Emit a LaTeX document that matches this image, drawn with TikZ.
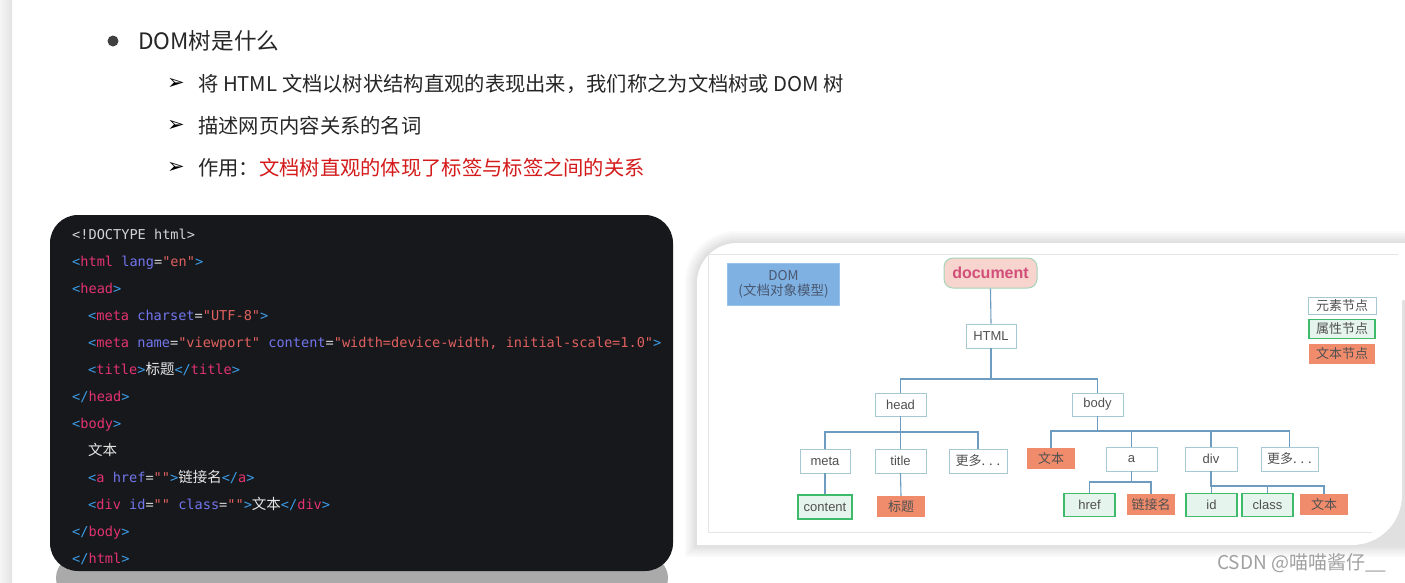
\documentclass[tikz,border=0pt]{standalone}
\usepackage{fontspec}
\usepackage{xcolor}
\newfontfamily\cjk{Noto Sans CJK SC}
\newfontfamily\codefont{DejaVu Sans Mono}
\newfontfamily\arialf{Liberation Sans}
\newfontfamily\djv{DejaVu Sans}
\definecolor{cdbg}{HTML}{17181B}
\definecolor{cdef}{HTML}{D4D4D4}
\definecolor{cdbr}{HTML}{3B9CE8}
\definecolor{cdtg}{HTML}{E2336E}
\definecolor{cdat}{HTML}{7275EC}
\definecolor{cdvl}{HTML}{E0605F}
\definecolor{czh}{HTML}{E6E6E6}
\definecolor{hdtx}{HTML}{262626}
\definecolor{redtx}{HTML}{D41A1A}
\definecolor{lnk}{HTML}{6E9CC0}
\definecolor{elbd}{HTML}{A6C8D2}
\definecolor{ndtx}{HTML}{505050}
\definecolor{atbd}{HTML}{3DBA6A}
\definecolor{atfl}{HTML}{E6F4EE}
\definecolor{txfl}{HTML}{F08C6C}
\definecolor{docfl}{HTML}{F7D4CD}
\definecolor{docbd}{HTML}{A4D4BA}
\definecolor{doctx}{HTML}{D24F7A}
\definecolor{domfl}{HTML}{7FB1E3}
\definecolor{domtx}{HTML}{4A5870}
\definecolor{wmtx}{HTML}{A0A0A0}
\definecolor{refl}{HTML}{A9AAA9}
\newcommand\cdB[1]{\textcolor{cdbr}{#1}}
\newcommand\cdT[1]{\textcolor{cdtg}{#1}}
\newcommand\cdA[1]{\textcolor{cdat}{#1}}
\newcommand\cdV[1]{\textcolor{cdvl}{#1}}
\newcommand\cdZ[1]{{\cjk\fontsize{14.5}{16}\selectfont\textcolor{czh}{#1}}}
\tikzset{
  codeln/.style={anchor=base west, inner sep=0pt, font=\codefont\fontsize{13.6}{16}\selectfont, text=cdef},
  hdln/.style={anchor=west, inner sep=0pt, font=\cjk\fontsize{20.3}{24}\selectfont, text=hdtx},
  arrbul/.style={anchor=center, inner sep=0pt, font=\djv\fontsize{21}{24}\selectfont, text=black},
  elem/.style={draw=elbd, fill=white, line width=0.9pt, minimum width=50pt, minimum height=24pt, inner sep=0pt, font=\arialf\fontsize{13}{15}\selectfont, text=ndtx},
  attr/.style={draw=atbd, fill=atfl, line width=1.6pt, minimum width=50pt, minimum height=23pt, inner sep=0pt, font=\arialf\fontsize{13}{15}\selectfont, text=ndtx},
  txtn/.style={fill=txfl, minimum width=48pt, minimum height=21pt, inner sep=0pt, font=\cjk\fontsize{13}{15}\selectfont, text=ndtx},
  lk/.style={draw=lnk, line width=1.1pt},
}
\begin{document}
\begin{tikzpicture}[x=1pt,y=-1pt]
\useasboundingbox (0,0) rectangle (1405,582);
\fill[white] (0,0) rectangle (1405,582);
% left page strip
\shade[left color=black!4, right color=black!11] (0,0) rectangle (12,582);
% ---------------- headings ----------------
\node[circle, fill=black!75, minimum size=11pt, inner sep=0pt] (b0) at (113,41) {};
\node[anchor=west, inner sep=0pt, font=\cjk\fontsize{22.6}{26}\selectfont, text=hdtx] (h0) at (138,41) {DOM树是什么};
\node[arrbul] (a1) at (176,84) {➢};
\node[arrbul] (a2) at (176,126) {➢};
\node[arrbul] (a3) at (176,168) {➢};
\node[hdln] (h1) at (198,84) {将 HTML 文档以树状结构直观的表现出来，我们称之为文档树或 DOM 树};
\node[hdln] (h2) at (198,126) {描述网页内容关系的名词};
\node[hdln] (h3) at (198,168) {作用：\textcolor{redtx}{文档树直观的体现了标签与标签之间的关系}};
% ---------------- code block ----------------
\fill[refl, rounded corners=22pt] (56,556) rectangle (668,600);
\fill[cdbg, rounded corners=28pt] (50,215) rectangle (673,571);
\node[codeln] (c1) at (72,239) {<!DOCTYPE html>};
\node[codeln] (c2) at (72,266) {\cdB{<}\cdT{html} \cdA{lang}=\cdV{"en"}\cdB{>}};
\node[codeln] (c3) at (72,293) {\cdB{<}\cdT{head}\cdB{>}};
\node[codeln] (c4) at (88,320) {\cdB{<}\cdT{meta} \cdA{charset}=\cdV{"UTF-8"}\cdB{>}};
\node[codeln] (c5) at (88,347) {\cdB{<}\cdT{meta} \cdA{name}=\cdV{"viewport"} \cdA{content}=\cdV{"width=device-width, initial-scale=1.0"}\cdB{>}};
\node[codeln] (c6) at (88,374) {\cdB{<}\cdT{title}\cdB{>}\cdZ{标题}\cdB{</}\cdT{title}\cdB{>}};
\node[codeln] (c7) at (72,401) {\cdB{</}\cdT{head}\cdB{>}};
\node[codeln] (c8) at (72,428) {\cdB{<}\cdT{body}\cdB{>}};
\node[codeln] (c9) at (88,455) {\cdZ{文本}};
\node[codeln] (c10) at (88,482) {\cdB{<}\cdT{a} \cdA{href}=\cdV{""}\cdB{>}\cdZ{链接名}\cdB{</}\cdT{a}\cdB{>}};
\node[codeln] (c11) at (88,509) {\cdB{<}\cdT{div} \cdA{id}=\cdV{""} \cdA{class}=\cdV{""}\cdB{>}\cdZ{文本}\cdB{</}\cdT{div}\cdB{>}};
\node[codeln] (c12) at (72,536) {\cdB{</}\cdT{body}\cdB{>}};
\node[codeln] (c13) at (72,563) {\cdB{</}\cdT{html}\cdB{>}};
% ---------------- right panel ----------------
\foreach \d/\c in {12/2,10/4,8/6,6/8,4/10,2/12} {
  \fill[black!\c] (697-\d,545+\d) -- (697-\d,283) .. controls (697-\d,261-0.6*\d) and (715-0.6*\d,243-\d) .. (737,243-\d) -- (1405,243-\d) -- (1405,545+\d) -- cycle;
}
\fill[white] (697,545) -- (697,283) .. controls (697,261) and (715,243) .. (737,243) -- (1405,243) -- (1405,300) -- (1402,300) -- (1402,495) .. controls (1402,522.6) and (1379.6,545) .. (1352,545) -- cycle;
\draw[black!10, line width=0.7pt] (1398,254) -- (708,254) -- (708,532) -- (1372,532);
% tree nodes
\node[fill=domfl, draw=domfl!80!white, minimum width=112pt, minimum height=42pt, inner sep=0pt, align=center, font=\cjk\fontsize{13.5}{15}\selectfont, text=domtx] (dom) at (783.5,284) {DOM\\(文档对象模型)};
\node[fill=docfl, draw=docbd, line width=1pt, rounded corners=9pt, minimum width=93pt, minimum height=30pt, inner sep=0pt, font=\arialf\bfseries\fontsize{16}{18}\selectfont, text=doctx] (doc) at (990.5,273) {document};
\node[elem] (html) at (991,336) {HTML};
\node[elem, minimum height=23pt, minimum width=51pt] (head) at (900.5,404.5) {head};
\node[elem, minimum height=23pt, minimum width=51pt] (body) at (1097.5,404.5) {body};
\node[elem] (meta) at (825,461) {meta};
\node[elem, minimum width=51pt] (title) at (900.5,461) {title};
\node[elem, minimum width=58pt, font=\cjk\fontsize{13}{15}\selectfont] (more1) at (978,461) {更多. . .};
\node[txtn] (txt1) at (1051,458.5) {文本};
\node[elem, minimum width=51pt] (a) at (1131.5,459) {a};
\node[elem, minimum width=52pt] (div) at (1211,459) {div};
\node[elem, minimum width=57pt, font=\cjk\fontsize{13}{15}\selectfont] (more2) at (1289.5,459) {更多. . .};
\node[attr, minimum width=54pt, minimum height=24pt] (content) at (825,507) {content};
\node[txtn] (biaoti) at (901,506.5) {标题};
\node[attr, minimum width=51pt] (href) at (1089.5,505) {href};
\node[txtn] (lianjie) at (1151,504.5) {链接名};
\node[attr, minimum width=51pt] (id) at (1211.5,505) {id};
\node[attr, minimum width=51pt] (class) at (1267.5,505) {class};
\node[txtn] (txt2) at (1324,504.5) {文本};
% legend
\node[elem, minimum width=68pt, minimum height=17pt, font=\cjk\fontsize{13}{15}\selectfont] (leg1) at (1342,305.5) {元素节点};
\node[attr, minimum width=66pt, minimum height=19pt, font=\cjk\fontsize{13}{15}\selectfont] (leg2) at (1342,329) {属性节点};
\node[txtn, minimum width=66pt, minimum height=20pt] (leg3) at (1342,354) {文本节点};
% bus coordinates
\coordinate (b1) at (0,379);
\coordinate (b2) at (0,432);
\coordinate (b3) at (0,431);
\coordinate (b4) at (0,482);
\coordinate (b5) at (0,486);
% connectors
\draw[lk] (doc.south) -- (html.north);
\draw[lk] (html.south) -- (html.south |- b1);
\draw[lk] (head.north) -- (head.north |- b1) -- (body.north |- b1) -- (body.north);
\draw[lk] (head.south) -- (head.south |- b2);
\draw[lk] (meta.north) -- (meta.north |- b2) -- (more1.north |- b2) -- (more1.north);
\draw[lk] (title.north) -- (title.north |- b2);
\draw[lk] (body.south) -- (body.south |- b3);
\draw[lk] (txt1.north) -- (txt1.north |- b3) -- (more2.north |- b3) -- (more2.north);
\draw[lk] (a.north) -- (a.north |- b3);
\draw[lk] (div.north) -- (div.north |- b3);
\draw[lk] (meta.south) -- (content.north);
\draw[lk] (title.south) -- (biaoti.north);
\draw[lk] (a.south) -- (a.south |- b4);
\draw[lk] (href.north) -- (href.north |- b4) -- (lianjie.north |- b4) -- (lianjie.north);
\draw[lk] (div.south) -- (div.south |- b5) -- (txt2.north |- b5) -- (txt2.north);
\draw[lk] (id.north) -- (id.north |- b5);
\draw[lk] (class.north) -- (class.north |- b5);
% watermark
\node[anchor=west, inner sep=0pt, font=\cjk\fontsize{19}{22}\selectfont, text=wmtx] (wm) at (1217,563) {CSDN @喵喵酱仔\_\_};
\end{tikzpicture}
\end{document}
